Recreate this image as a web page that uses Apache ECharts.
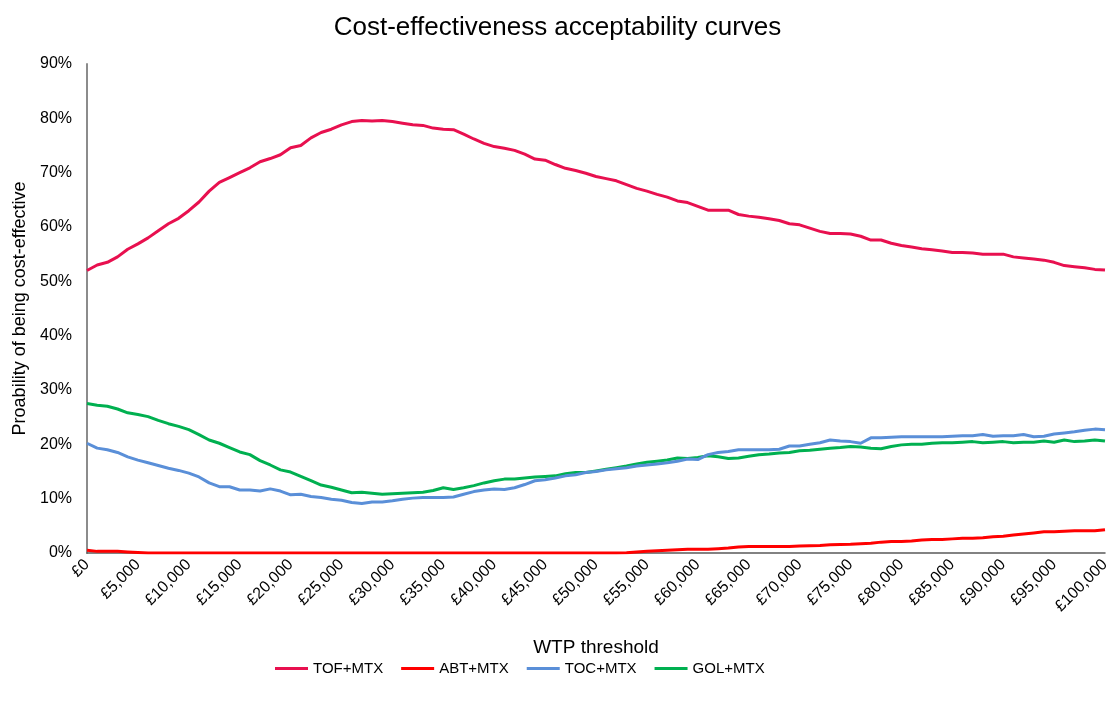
<!DOCTYPE html>
<html>
<head>
<meta charset="utf-8">
<script src="https://cdn.jsdelivr.net/npm/echarts@6/dist/echarts.min.js"></script>
<style>html,body{margin:0;padding:0;background:#fff}#c{width:1115px;height:706px}</style>
</head>
<body>
<div id="c"></div>
<script>
// WTP thresholds (£), every £1,000 from £0 to £100,000
const wtp = Array.from({length: 101}, (_, i) => i * 1000);

const seriesNames = ['TOF+MTX', 'ABT+MTX', 'TOC+MTX', 'GOL+MTX'];

// Probability of being cost-effective (%)
const tof = [52.0,53.0,53.5,54.5,55.9,56.9,58.0,59.3,60.6,61.6,
  63.0,64.6,66.6,68.2,69.1,70.0,70.9,72.0,72.6,73.3,
  74.6,75.0,76.4,77.4,78.0,78.8,79.4,79.6,79.5,79.6,
  79.4,79.1,78.8,78.7,78.2,78.0,77.9,77.1,76.2,75.4,
  74.8,74.5,74.1,73.4,72.5,72.3,71.5,70.8,70.4,69.9,
  69.3,68.9,68.5,67.8,67.1,66.6,66.0,65.5,64.8,64.5,
  63.8,63.1,63.1,63.1,62.3,62.0,61.8,61.5,61.2,60.6,
  60.4,59.8,59.2,58.8,58.8,58.7,58.3,57.6,57.6,57.0,
  56.6,56.3,56.0,55.8,55.6,55.3,55.3,55.2,55.0,55.0,
  55.0,54.5,54.3,54.1,53.9,53.5,52.9,52.7,52.5,52.2,52.1];

const abt = [0.5,0.3,0.3,0.3,0.2,0.1,0,0,0,0,
  0,0,0,0,0,0,0,0,0,0,
  0,0,0,0,0,0,0,0,0,0,
  0,0,0,0,0,0,0,0,0,0,
  0,0,0,0,0,0,0,0,0,0,
  0,0,0,0.05,0.2,0.3,0.4,0.5,0.6,0.7,
  0.7,0.7,0.8,0.9,1.1,1.2,1.2,1.2,1.2,1.2,
  1.3,1.35,1.4,1.5,1.55,1.6,1.7,1.8,2.0,2.1,
  2.1,2.2,2.4,2.5,2.5,2.6,2.7,2.7,2.8,3.0,
  3.1,3.3,3.5,3.7,3.9,3.9,4.0,4.1,4.1,4.1,4.3];

const toc = [20.2,19.3,19.0,18.5,17.7,17.1,16.6,16.1,15.6,15.2,
  14.7,14.0,12.9,12.2,12.2,11.6,11.6,11.4,11.8,11.4,
  10.7,10.8,10.4,10.2,9.9,9.7,9.3,9.1,9.4,9.4,
  9.6,9.9,10.1,10.2,10.2,10.2,10.3,10.8,11.3,11.6,
  11.8,11.7,12.0,12.6,13.3,13.5,13.8,14.2,14.4,14.8,
  15.0,15.3,15.5,15.7,16.0,16.2,16.4,16.6,16.9,17.3,
  17.2,18.1,18.5,18.7,19.0,19.0,19.0,19.0,19.1,19.7,
  19.7,20.0,20.3,20.8,20.6,20.5,20.2,21.2,21.2,21.3,
  21.4,21.4,21.4,21.4,21.4,21.5,21.6,21.6,21.8,21.5,
  21.6,21.6,21.8,21.4,21.5,21.9,22.1,22.3,22.6,22.8,22.7];

const gol = [27.5,27.2,27.0,26.5,25.8,25.5,25.1,24.4,23.8,23.3,
  22.7,21.8,20.8,20.2,19.4,18.6,18.1,17.0,16.2,15.3,
  14.9,14.1,13.3,12.5,12.1,11.6,11.1,11.2,11.0,10.8,
  10.9,11.0,11.1,11.2,11.5,12.0,11.7,12.0,12.4,12.9,
  13.3,13.6,13.6,13.8,14.0,14.1,14.2,14.6,14.8,14.8,
  15.1,15.4,15.7,16.0,16.4,16.7,16.9,17.1,17.5,17.4,
  17.6,17.9,17.7,17.4,17.5,17.8,18.1,18.2,18.4,18.5,
  18.8,18.9,19.1,19.3,19.4,19.6,19.5,19.3,19.2,19.6,
  19.9,20.0,20.0,20.2,20.3,20.3,20.4,20.5,20.3,20.4,
  20.5,20.3,20.4,20.4,20.6,20.4,20.8,20.5,20.6,20.8,20.6];

const colors = ['#E8104F', '#FF0000', '#5A8FD8', '#00B050'];
const values = [tof, abt, toc, gol];

const font = '"Liberation Sans", Arial, sans-serif';
const chart = echarts.init(document.getElementById('c'), null, {renderer: 'canvas'});
chart.setOption({
  animation: false,
  backgroundColor: '#fff',
  title: {
    text: 'Cost-effectiveness acceptability curves',
    left: 'center', top: 10,
    textStyle: {fontFamily: font, fontSize: 26, fontWeight: 'normal', color: '#000'}
  },
  legend: {
    data: seriesNames,
    bottom: 25, left: 270,
    icon: 'rect', itemWidth: 33, itemHeight: 3, itemGap: 18,
    textStyle: {fontFamily: font, fontSize: 15, color: '#000'}
  },
  grid: {left: 87, right: 10, top: 64, bottom: 153, containLabel: false},
  xAxis: {
    type: 'value', min: 0, max: 100000, interval: 5000,
    name: 'WTP threshold', nameLocation: 'middle', nameGap: 85,
    nameTextStyle: {fontFamily: font, fontSize: 19, color: '#000'},
    axisLine: {lineStyle: {color: '#595959', width: 1.5}},
    axisTick: {show: false},
    splitLine: {show: false},
    axisLabel: {
      rotate: 45, fontFamily: font, fontSize: 16, color: '#000', margin: 9,
      formatter: v => '£' + v.toLocaleString('en-GB')
    }
  },
  yAxis: {
    type: 'value', min: 0, max: 90, interval: 10,
    name: 'Proability of being cost-effective', nameLocation: 'middle', nameGap: 57,
    nameTextStyle: {fontFamily: font, fontSize: 18, color: '#000'},
    axisLine: {show: true, lineStyle: {color: '#8c8c8c', width: 2}},
    axisTick: {show: false},
    splitLine: {show: false},
    axisLabel: {fontFamily: font, fontSize: 16, color: '#000', margin: 15, formatter: v => v + '%'}
  },
  series: seriesNames.map((n, i) => ({
    name: n, type: 'line', showSymbol: false, symbol: 'none',
    data: wtp.map((x, j) => [x, values[i][j]]),
    lineStyle: {color: colors[i], width: 3},
    itemStyle: {color: colors[i]},
    z: 10 - i
  }))
});
</script>
</body>
</html>
